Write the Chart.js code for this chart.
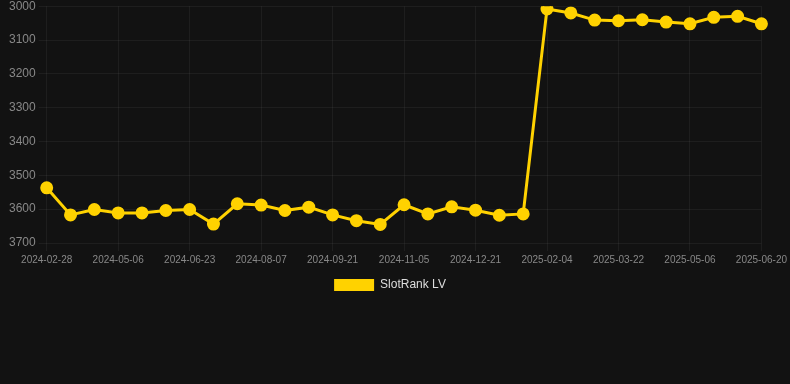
<!DOCTYPE html>
<html>
<head>
<meta charset="utf-8">
<script src="https://cdn.jsdelivr.net/npm/chart.js@4"></script>
<style>
  html, body { margin: 0; padding: 0; background: #121212; overflow: hidden; }
  #wrap { width: 790px; height: 305px; margin-top: -4px; position: relative; }
</style>
</head>
<body>
<div id="wrap"><canvas id="rankChart"></canvas></div>
<script>
// Chart data
const dates = [
    '2024-02-28', '2024-03-21', '2024-04-13', '2024-05-06', '2024-05-22', '2024-06-07',
    '2024-06-23', '2024-07-08', '2024-07-23', '2024-08-07', '2024-08-22', '2024-09-06',
    '2024-09-21', '2024-10-06', '2024-10-21', '2024-11-05', '2024-11-20', '2024-12-06',
    '2024-12-21', '2025-01-05', '2025-01-20', '2025-02-04', '2025-02-19', '2025-03-07',
    '2025-03-22', '2025-04-06', '2025-04-21', '2025-05-06', '2025-05-21', '2025-06-05',
    '2025-06-20'
];
const ranks = [
    3537, 3617, 3601, 3611, 3611, 3604, 3601, 3644, 3584, 3588, 3604, 3594,
    3617, 3634, 3645, 3587, 3614, 3593, 3603, 3618, 3614, 3008, 3020, 3041,
    3043, 3040, 3047, 3052, 3033, 3030, 3052
];
const yTicks = [3000, 3100, 3200, 3300, 3400, 3500, 3600, 3700];

const lineColor = 'rgb(255, 210, 0)';
const gridColor = 'rgba(255, 255, 255, 0.05)';

// nudge the legend a bit to the left, like the original
const legendShift = {
    id: 'legendShift',
    afterLayout(chart) {
        if (chart.legend) {
            chart.legend.left -= 6;
            chart.legend.right -= 6;
        }
    }
};

const ctx = document.getElementById('rankChart').getContext('2d');
new Chart(ctx, {
    type: 'line',
    data: {
        labels: dates,
        datasets: [{
            label: 'SlotRank LV',
            data: ranks,
            borderColor: lineColor,
            backgroundColor: lineColor,
            borderWidth: 3,
            pointRadius: 5,
            pointBackgroundColor: lineColor,
            pointBorderColor: lineColor,
            tension: 0
        }]
    },
    plugins: [legendShift],
    options: {
        responsive: true,
        maintainAspectRatio: false,
        animation: false,
        layout: { padding: { left: 6, right: 4 } },
        plugins: {
            legend: {
                position: 'bottom',
                labels: {
                    color: '#dddddd',
                    font: { size: 12 },
                    boxWidth: 40,
                    boxHeight: 12,
                    generateLabels: (chart) => chart.data.datasets.map((ds, i) => ({
                        text: ds.label,
                        fillStyle: ds.backgroundColor,
                        strokeStyle: ds.borderColor,
                        lineWidth: 0,
                        fontColor: '#dddddd',
                        datasetIndex: i
                    }))
                }
            },
            tooltip: { enabled: false }
        },
        scales: {
            y: {
                reverse: true,
                min: yTicks[0],
                max: yTicks[yTicks.length - 1],
                grid: { color: gridColor },
                border: { display: false },
                afterBuildTicks: (axis) => { axis.ticks = yTicks.map(v => ({ value: v })); },
                ticks: { color: '#888888', font: { size: 12 }, callback: (v) => String(v) }
            },
            x: {
                grid: { color: gridColor },
                border: { display: false },
                ticks: {
                    color: '#888888',
                    font: { size: 10 },
                    maxRotation: 0,
                    autoSkip: false,
                    callback: (val, i) => (i % 3 === 0 ? dates[i] : null)
                }
            }
        }
    }
});
</script>
</body>
</html>
